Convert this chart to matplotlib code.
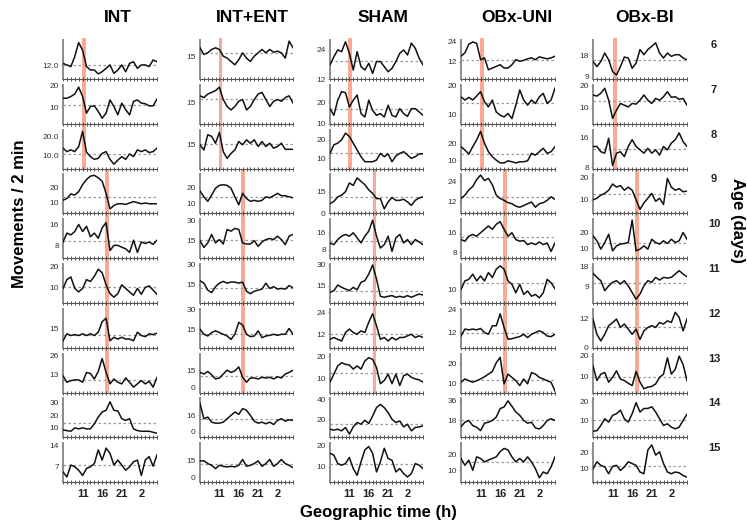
import matplotlib
matplotlib.use('Agg')
import matplotlib.pyplot as plt
from matplotlib.patches import Rectangle
from matplotlib.transforms import blended_transform_factory

plt.rcParams['font.family'] = ['Liberation Sans', 'DejaVu Sans']

# ---- data -------------------------------------------------------------
hours = list(range(6, 31))          # hourly samples, 6h -> 6h next day
groups = ['INT', 'INT+ENT', 'SHAM', 'OBx-UNI', 'OBx-BI']
days = [6, 7, 8, 9, 10, 11, 12, 13, 14, 15]
xtick_hours = [11, 16, 21, 26]
xtick_labels = ['11', '16', '21', '2']

int_series = [
    [13.2, 12.3, 11.3, 17.2, 25.5, 21, 11.3, 9.3, 9.3, 7, 8.3, 10.3, 12.3, 7.3, 9.3, 12.3, 8.3, 13.2, 14.2, 10.3, 12.3, 12.3, 11.3, 15.2, 14.2],
    [14.2, 14.2, 15, 16.2, 19.4, 15, 7.2, 10.3, 10.6, 8, 4.8, 7.2, 13.4, 10.3, 6.4, 11.9, 8.8, 6.4, 12.7, 13.4, 11.9, 11.6, 10.6, 10.6, 13.8],
    [13.9, 12.1, 13, 12.1, 14.7, 22.6, 11.8, 9.5, 8.1, 8.6, 11.2, 12.1, 8.1, 5.6, 7.7, 9.5, 8.1, 10.9, 9.5, 13, 12.1, 13, 11.6, 12.1, 13.9],
    [11.6, 12.7, 15.6, 14.9, 17.1, 21.6, 24.9, 27.1, 27.6, 26, 23.8, 16, 6, 8.2, 9.3, 9.3, 8.9, 9.8, 10.7, 10, 9.3, 9.8, 9.3, 9.3, 9.3],
    [9.3, 12.7, 12, 13.3, 16, 13.3, 15.3, 11.3, 12.7, 10.7, 14.7, 16.7, 6, 8, 8, 7.3, 6.7, 5.3, 10, 5.3, 9.3, 8.7, 9.3, 8.4, 10],
    [9.5, 13.7, 15, 9.5, 7.8, 9.5, 13.7, 12.8, 15.3, 18.7, 17, 11.2, 7, 5.3, 7, 11.2, 9.5, 7.8, 6.2, 9.5, 6.7, 10, 10.7, 8.7, 6.7],
    [7.4, 11.8, 10.7, 11.3, 10.7, 11.8, 10.7, 11.8, 10.7, 12.8, 19.4, 21.6, 7.4, 9.6, 8.5, 9.6, 8.5, 8.5, 7.4, 12.8, 10.7, 10, 11.8, 11.3, 12.2],
    [12.1, 7.7, 8.8, 9.3, 9.3, 7.7, 14.3, 13.7, 9.9, 15, 23.8, 14.3, 6.6, 9.9, 7.7, 6.6, 10.6, 7.7, 4.4, 6.6, 8.8, 6.6, 8.4, 4.4, 11],
    [8.4, 7.8, 7.3, 10, 9.2, 10, 9.2, 9.2, 13.2, 18.6, 22.7, 24, 30.8, 24, 23.5, 17.3, 16, 17.3, 9.2, 7.8, 7.3, 7.3, 7.3, 6.5, 5.7],
    [5, 3.3, 7.4, 6.8, 5.6, 3.8, 6.2, 6.8, 7.9, 12.6, 9.1, 13.2, 11.4, 7.4, 9.1, 7.4, 5.6, 6.8, 8.5, 9.1, 3.8, 9.1, 10.3, 7, 10.9],
]
int_ylim = [(4, 27), (2.2, 20.5), (3.3, 23.5), (3.1, 28.2), (3.1, 18), (2.5, 21.2), (3, 27.5), (0.7, 27.1), (2.4, 33.5), (1.5, 14.9)]
int_ticks = [['12.0'], ['10', '20'], ['10.0', '20.0'], ['10', '20'], ['8', '16'], ['10', '20'], ['15'], ['13', '26'], ['10', '20', '30'], ['7', '14']]
int_means = [12, 10.8, 10.9, 13.6, 9.7, 10, 11.3, 9.5, 14, 7.5]
int_bands = [11.3, 17.3]

ent_series = [
    [18.2, 15.8, 16.4, 17.6, 18.2, 17.6, 15.2, 14.5, 13.3, 12.1, 13.9, 16.4, 14.5, 13.3, 15.2, 16.4, 17.6, 16.4, 17.6, 16.6, 17, 16.4, 14.5, 20.6, 18.2],
    [17.9, 17.1, 18.7, 19.5, 20.3, 21.9, 16.2, 13, 11.4, 13, 15.4, 16.2, 11.4, 13, 16.2, 18.7, 19.5, 16.2, 13, 15.4, 16.2, 15.4, 17.1, 17.9, 14.6],
    [15, 12.6, 19.6, 18.9, 15.7, 20.7, 11.8, 8.7, 11, 12.6, 16.5, 15, 17.3, 15.7, 17.3, 14.2, 16.5, 14.2, 15.7, 13.4, 14.2, 15.7, 12.9, 12.9, 12.9],
    [17.6, 13.9, 11.1, 15, 19.3, 21.1, 21.5, 21.1, 19.3, 13.9, 8.9, 16.1, 12.8, 11.1, 11.7, 11.1, 11.7, 13.9, 13.3, 14.6, 16.1, 14.6, 14.6, 13.9, 13.3],
    [15, 9.8, 13.2, 19.7, 13.2, 15.8, 12.4, 23.5, 22.2, 24.3, 23.5, 13.2, 12.4, 12.4, 15, 10.6, 14, 15.8, 16.6, 15.8, 18.4, 15.8, 11.9, 18.4, 19.7],
    [18.1, 16.3, 11.1, 9.3, 13.7, 16.3, 17.6, 16.3, 17.1, 17.1, 16.3, 17.1, 10.3, 8.5, 10.3, 11.1, 11.9, 16.3, 12.4, 13.7, 11.9, 12.4, 11.9, 14.5, 12.9],
    [15, 11.1, 9.8, 12.4, 13.7, 12.4, 11.1, 9.8, 7.2, 11.1, 20.2, 18.1, 11.1, 9.3, 9.8, 13.7, 8.5, 9.8, 10.3, 11.1, 10.3, 11.1, 11.1, 15.5, 11.1],
    [13.1, 11.7, 13.9, 11.1, 7.5, 8.3, 11.7, 15, 13.1, 14.4, 17.8, 8.9, 4.7, 8.3, 8.3, 7.5, 8.9, 8.3, 8.9, 7.5, 9.4, 8.3, 11.7, 13.1, 15],
    [27.7, 12.7, 14.3, 9.3, 8.3, 8.3, 9.3, 12.7, 16, 19.3, 17, 22.7, 21, 16, 10.3, 8.3, 9.3, 7.7, 9.3, 7, 11, 12.7, 10.3, 11.7, 11],
    [15, 15, 12.5, 10.9, 7.8, 10.9, 10, 9.4, 10, 9.4, 10.9, 16.3, 10, 10.9, 12.5, 15, 10, 12.5, 16.3, 10, 12.5, 16.3, 12.5, 10.9, 8.8],
]
ent_ylim = [(7, 21), (5, 23), (4, 22), (3.5, 28), (1.6, 31.3), (1.6, 30.5), (0.8, 30.5), (-4.2, 29.2), (-5.7, 32.7), (-4.7, 31.3)]
ent_ticks = [['15'], ['15'], ['15'], ['10', '20'], ['15', '30'], ['15', '30'], ['15', '30'], ['0', '15'], ['0', '16'], ['0', '15']]
ent_means = [16.4, 16.6, 15.3, 13.9, 15.5, 12.9, 11.1, 10.3, 12.7, 11.9]
ent_bands = [11.3, 17.1]

sham_series = [
    [17.8, 21.2, 24, 23.3, 27.4, 22.6, 15.7, 23.3, 17.1, 15.7, 18.5, 14.3, 19.2, 19.2, 17.1, 15, 16.4, 19.2, 22.6, 24, 21.9, 26.8, 24.7, 20.6, 17.8],
    [17.1, 14, 21.1, 25.1, 24.6, 17.9, 21.1, 23.5, 14.8, 13.2, 21.1, 16.3, 14, 14.8, 13.2, 18.7, 14, 13.2, 17.1, 14.8, 13.5, 17.1, 17.1, 15.6, 14],
    [12.7, 17.3, 18.2, 20, 23.6, 21.8, 18.2, 14.5, 10.9, 8.2, 8.2, 8.2, 9.1, 12.7, 10.9, 12.4, 8.2, 11.3, 12.7, 13.6, 11.8, 10, 10.9, 12.4, 12.4],
    [6.7, 8.3, 11.4, 12.6, 15, 21, 19.3, 24.5, 22.1, 19.8, 16.2, 13.8, 10.2, 10.2, 3.1, 7.9, 11, 9, 9, 9.8, 7.9, 5.5, 9, 10.7, 11.4],
    [11.2, 10.4, 12.8, 14.4, 15.2, 14.4, 16, 13.6, 11.2, 14.4, 16.8, 21.9, 14.4, 8.8, 10.4, 14.4, 7.2, 13.6, 15.2, 11.2, 12.8, 10.4, 12.8, 11.7, 10.4],
    [10.2, 11.4, 15.5, 13.8, 12.6, 11.4, 13.8, 12.1, 17.4, 18.6, 23.3, 29.8, 19.8, 7.4, 6.7, 7.4, 7.9, 6.7, 7.4, 6.7, 7.9, 6.7, 7.9, 9, 8.3],
    [9.2, 10.2, 9.2, 8.3, 12.9, 14.8, 12.9, 12, 13.8, 12.9, 18.5, 23.1, 16.6, 9.2, 10.2, 8.3, 10.2, 8.9, 10.2, 10.2, 11.1, 12, 10.2, 11.1, 10.2],
    [8.6, 12.1, 15.7, 17.1, 16.4, 16.1, 14.3, 15.7, 14.3, 17.9, 19.3, 18.6, 15, 7.9, 9.3, 12.1, 7.9, 12.1, 7.1, 11.4, 12.1, 10.7, 10, 9.6, 8.6],
    [10, 9, 10, 8.3, 11.7, 5, 12.3, 16.7, 15, 19, 15.7, 23.3, 31.7, 35, 31.7, 26.7, 20, 16.7, 18.3, 12.3, 15, 8.3, 11.7, 12.3, 13.3],
    [16.5, 15.6, 11.6, 10.8, 11.6, 14.5, 9.2, 6, 12.4, 18.1, 19.7, 16.5, 7.6, 12.4, 18.9, 14, 13.2, 7.6, 9.2, 6.8, 5.2, 6.8, 11.6, 10.8, 9.2],
]
sham_ylim = [(12, 28.1), (10, 28.3), (4.5, 25.5), (0, 26.9), (4, 22.4), (2.6, 30.5), (4.6, 25.8), (4, 21.1), (1.7, 41), (2.7, 21.3)]
sham_ticks = [['12', '24'], ['10', '20'], ['10', '20'], ['0', '15'], ['8', '16'], ['15', '30'], ['12', '24'], ['10', '20'], ['20', '40'], ['10', '20']]
sham_means = [19.6, 17.1, 13.1, 11.4, 12.3, 11.4, 12, 12.6, 15.7, 11.6]
sham_bands = [11.25, 17.5]

uni_series = [
    [15.3, 17.4, 22.6, 24, 23.2, 13.2, 14.3, 7, 8.1, 9.1, 10.1, 8.1, 8.1, 10.1, 13.2, 12.2, 12.8, 13.7, 14.3, 13.2, 14.9, 14.3, 13.7, 14.3, 15.3],
    [16.2, 15.1, 16, 15.1, 16.5, 18, 14.5, 12.7, 15.1, 10.9, 9.8, 9.2, 10.4, 8.6, 13.3, 18.6, 15.1, 13.3, 15.1, 13.9, 16.2, 17.4, 13.9, 15.1, 19.2],
    [18.3, 16.2, 13.8, 18.3, 22.5, 27.7, 20.4, 15.2, 12.1, 10, 8.3, 8.3, 9.6, 9, 8.3, 9, 9, 9.6, 14.2, 13.1, 15.2, 17.3, 14.2, 15.2, 18.3],
    [13.7, 15.7, 18.8, 20.9, 25, 27.7, 24.4, 25.7, 21.9, 15.7, 13.7, 12.6, 11.2, 10.6, 9.1, 8.5, 9.5, 10.6, 11.6, 8.5, 10.6, 11.2, 12.6, 14.7, 13.2],
    [13.2, 12.5, 14.6, 15.3, 14.6, 16, 17.4, 18.8, 17.4, 19.5, 20.6, 17.4, 14.6, 16, 13.2, 12.5, 12.8, 11.1, 11.8, 11.1, 12.2, 11.1, 11.8, 8.3, 11.8],
    [10.2, 13.5, 14.1, 16.1, 13.5, 15.4, 13.5, 16.7, 14.8, 18, 19.3, 18, 13.5, 12.2, 8.9, 12.2, 8.3, 9.6, 7.6, 8.3, 7, 8.9, 14.1, 12.8, 10.5],
    [10.2, 13.8, 13.4, 13.8, 13.4, 14.1, 12, 11.1, 15.5, 15.5, 21.7, 14.6, 8.5, 8.8, 9.4, 9.9, 11.1, 9.4, 11.1, 12, 12.9, 12, 10.2, 9.9, 11.1],
    [10.5, 12.2, 11.3, 10.5, 11.3, 12.2, 13.3, 14.7, 16, 20.5, 23.3, 9.7, 14.7, 13, 11.3, 8.8, 12.2, 9.7, 15.5, 14.7, 13, 12.2, 11.3, 10.5, 6],
    [12.4, 16.4, 18, 13.3, 11.8, 8.7, 15.5, 16.4, 18, 21.1, 28.9, 30.4, 36, 31, 25.8, 22.7, 18, 15.5, 16.4, 11.2, 10.2, 13.3, 18, 19.6, 18],
    [17.3, 13.1, 16.3, 10, 18.3, 17.3, 15.2, 16.3, 17.3, 18.3, 21.5, 23.5, 22.5, 18.3, 15.2, 17.3, 15.2, 18.3, 15.2, 11, 5.4, 9, 7.9, 12.1, 18.3],
]
uni_ylim = [(1.4, 25.2), (6.8, 20.4), (4.8, 28.8), (4.8, 28.1), (5.5, 21.6), (5, 20), (4.1, 24.3), (5.2, 25.2), (2.5, 38.2), (2.7, 26.7)]
uni_ticks = [['12', '24'], ['10', '20'], ['10', '20'], ['12', '24'], ['8', '16'], ['10'], ['12', '24'], ['10', '20'], ['18', '36'], ['10', '20']]
uni_means = [12.8, 13.9, 13.8, 14.7, 14.2, 12.6, 12, 11.7, 18, 15.2]
uni_bands = [11.3, 17.3]

bi_series = [
    [15.5, 13.3, 15.5, 19.1, 16.2, 11.2, 9.7, 13.3, 17.4, 17, 12.6, 14.8, 20.6, 18.4, 20.6, 22, 23.5, 19.1, 17, 19.1, 17.7, 18.4, 18.4, 17, 16.2],
    [15.8, 15.3, 16.6, 18.9, 13.4, 5, 8.8, 11.9, 11.1, 10.3, 11.9, 11.6, 13.4, 15.8, 13.4, 11.9, 14.2, 13.4, 15, 17.3, 14.7, 15, 13.8, 14.2, 11.1],
    [13.6, 13.6, 12.2, 11.8, 15.8, 8.5, 11.8, 12.2, 10.9, 13.6, 15.4, 13.6, 12.7, 11.8, 13.1, 11.8, 12.7, 11.3, 13.6, 12.7, 14.5, 15.4, 17.2, 14.9, 13.6],
    [10, 10.7, 12.1, 12.9, 14.3, 17.1, 15.7, 16.4, 14.3, 15.7, 14.3, 10, 5.7, 8.6, 10.7, 12.9, 9.3, 10.7, 7.9, 19.6, 15.7, 14.3, 15, 13.6, 13.9],
    [17.9, 14.7, 9.4, 13.6, 18.9, 8.3, 11.5, 12.6, 13, 13.6, 27.9, 8.3, 9.4, 11.5, 9.4, 15.7, 13.6, 12.6, 14.7, 13, 15.7, 13.6, 14.7, 20, 15.7],
    [15, 13.2, 11.7, 7.2, 9.4, 11, 11.7, 10.2, 11.7, 9.4, 6.4, 3.4, 5.7, 9.4, 11.7, 11, 13.2, 12, 13.2, 12.9, 13.2, 14.7, 16.2, 14.7, 13.5],
    [11.7, 5.5, 2.8, 5.5, 9, 10.3, 11.7, 8.3, 9.7, 7.6, 5.5, 7.6, 3.4, 6.9, 8.3, 9, 8.3, 10.3, 9.7, 11, 10.3, 14.5, 12.4, 6.9, 11.7],
    [15.1, 8.2, 11.2, 12, 7.4, 9.7, 12.8, 8.9, 8.2, 6.9, 5.8, 12.5, 7.4, 4.3, 5.1, 5.4, 6.6, 9.7, 11.2, 18.9, 11.2, 13.5, 19.7, 15.8, 8.2],
    [4.2, 4.5, 7.3, 10.9, 9.1, 12.7, 13.6, 15.5, 10.9, 9.1, 13.6, 19.5, 14.5, 16.4, 16.4, 17.3, 14.5, 10.9, 7.3, 8.2, 6.4, 5.5, 6.4, 10, 13.3],
    [10, 14.3, 12.1, 11.1, 6.8, 11.5, 12.1, 8.9, 11.1, 14.3, 13.2, 12.1, 7.9, 6.8, 21.7, 24.9, 18.5, 20.6, 13.2, 7.9, 6.8, 7.9, 7.4, 5.7, 4.7],
]
bi_ylim = [(8, 24.7), (2.5, 20.5), (7.7, 18.1), (3.9, 21.4), (3.6, 28.5), (1.7, 19.2), (0, 15.9), (2.5, 20.9), (0.9, 21.8), (1.5, 26)]
bi_ticks = [['9', '18'], ['10', '20'], ['8', '16'], ['10', '20'], ['10', '20'], ['9', '18'], ['0', '12'], ['10', '20'], ['10', '20'], ['10', '20']]
bi_means = [16.3, 13.1, 12.9, 12.6, 13.6, 10.5, 8.3, 10, 10, 11.7]
bi_bands = [11.5, 17.35]

group_data = [
    (int_series, int_ylim, int_ticks, int_means, int_bands),
    (ent_series, ent_ylim, ent_ticks, ent_means, ent_bands),
    (sham_series, sham_ylim, sham_ticks, sham_means, sham_bands),
    (uni_series, uni_ylim, uni_ticks, uni_means, uni_bands),
    (bi_series, bi_ylim, bi_ticks, bi_means, bi_bands),
]

# ---- layout (pixels) --------------------------------------------------
W, H = 747, 525
col_x = [(63, 157), (200, 293), (330, 423), (461, 555), (593, 687)]
title_x = [118, 252, 383, 517, 645]
row_top0, row_step, row_h = 40, 44.8, 39
band_rows = [(0, 2), (3, 7)]
band_w = 1.0
band_color = '#f7aa94'

fig = plt.figure(figsize=(W / 100, H / 100), dpi=100)

for c, (series, ylims, ticks, means, bands) in enumerate(group_data):
    x0, x1 = col_x[c]
    axes = []
    for r in range(len(days)):
        top = row_top0 + r * row_step
        ax = fig.add_axes([x0 / W, 1 - (top + row_h) / H, (x1 - x0) / W, row_h / H])
        ax.set_facecolor('none')
        ax.plot(hours, series[r], color='#111111', lw=1.1, zorder=3)
        ax.axhline(means[r], color='#9a9a9a', ls=(0, (2, 2)), lw=0.9, zorder=2)
        ax.set_xlim(6, 30)
        ax.set_ylim(*ylims[r])
        ax.spines['top'].set_visible(False)
        ax.spines['right'].set_visible(False)
        ax.spines['left'].set_color('#8c8c8c')
        ax.spines['left'].set_linewidth(1.4)
        ax.spines['bottom'].set_color('#555555')
        ax.spines['bottom'].set_linewidth(0.8)
        ax.set_xticks(hours)
        if r == len(days) - 1:
            ax.set_xticklabels([xtick_labels[xtick_hours.index(h)] if h in xtick_hours else '' for h in hours],
                               fontsize=8, fontweight='bold', color='#222222')
        else:
            ax.set_xticklabels([])
        ax.tick_params(axis='x', direction='inout', length=3.5, width=0.7, color='#555555', pad=3)
        ax.set_yticks([float(t) for t in ticks[r]])
        ax.set_yticklabels(ticks[r], fontsize=6, color='#333333')
        ax.tick_params(axis='y', length=1.5, width=0.6, color='#8c8c8c', pad=1.5)
        axes.append(ax)

    # shaded transition bands spanning several rows
    for (r0, r1), centre in zip(band_rows, bands):
        if r0 == 0:
            y_top = row_top0 - 2
        else:
            y_top = row_top0 + (r0 - 1) * row_step + row_h + 1
        y_bot = row_top0 + r1 * row_step + row_h + 1
        tr = blended_transform_factory(axes[r0].transData, fig.transFigure)
        rect = Rectangle((centre - band_w / 2, 1 - y_bot / H), band_w, (y_bot - y_top) / H,
                         transform=tr, facecolor=band_color, edgecolor='none', zorder=-1)
        fig.add_artist(rect)

    fig.text(title_x[c] / W, 1 - 18 / H, groups[c], ha='center', va='center',
             fontsize=12.5, fontweight='bold')

for r, d in enumerate(days):
    top = row_top0 + r * row_step
    fig.text(714 / W, 1 - (top + 5) / H, str(d), ha='center', va='center',
             fontsize=8, fontweight='bold', color='#222222')

fig.text(20 / W, 1 - 214 / H, 'Movements / 2 min', rotation=90, ha='center', va='center',
         fontsize=12, fontweight='bold')
fig.text(737 / W, 1 - 221 / H, 'Age (days)', rotation=-90, ha='center', va='center',
         fontsize=12, fontweight='bold')
fig.text(378 / W, 1 - 513 / H, 'Geographic time (h)', ha='center', va='center',
         fontsize=12, fontweight='bold')

fig.savefig('out.png', dpi=100)
